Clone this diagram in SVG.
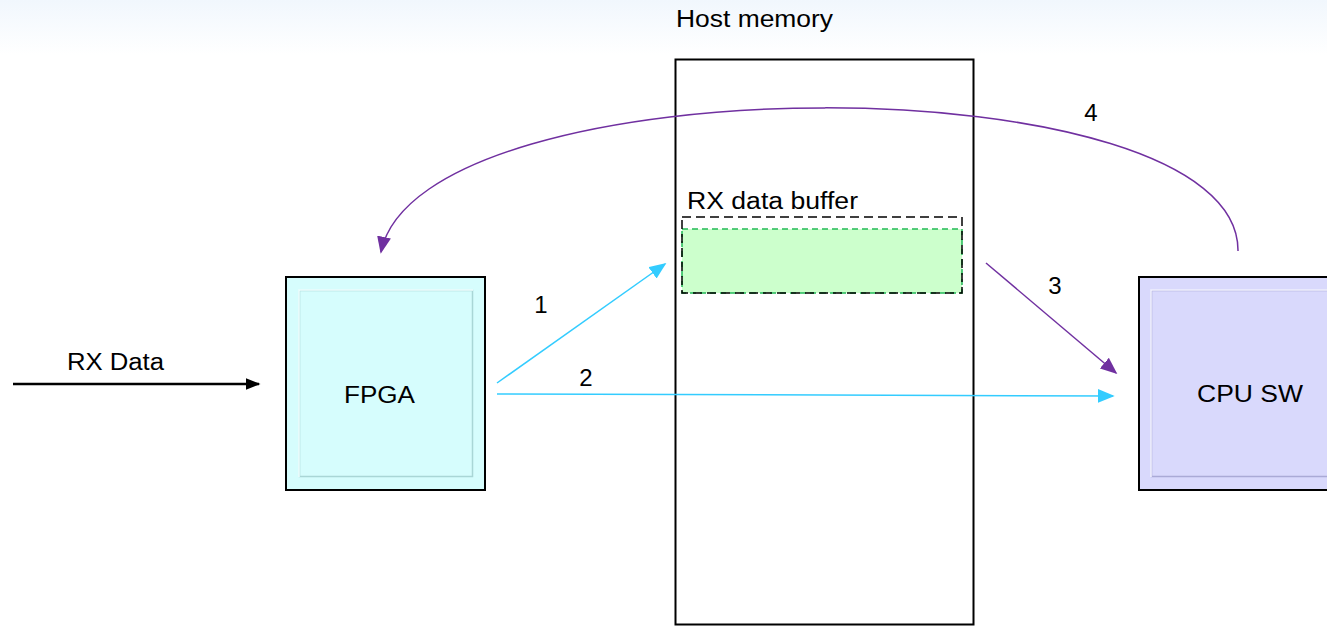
<svg xmlns="http://www.w3.org/2000/svg" width="1327" height="626" viewBox="0 0 1327 626">
<style>
.t{font-family:"Liberation Sans",Arial,sans-serif;font-size:23px;fill:#000}
.n{font-family:"Liberation Sans",Arial,sans-serif;font-size:24px;fill:#000}
.box{stroke:#000;stroke-width:2}
.cy{stroke:#33ccff;stroke-width:1.5;fill:none}
.pu{stroke:#7030a0;stroke-width:1.5;fill:none}
</style>
<defs>
<linearGradient id="bg" x1="0" y1="0" x2="0" y2="1">
<stop offset="0" stop-color="#f1f7fd"/>
<stop offset="1" stop-color="#ffffff"/>
</linearGradient>
<marker id="ac" viewBox="0 0 10 10" refX="9" refY="5" markerWidth="17" markerHeight="14" preserveAspectRatio="none" markerUnits="userSpaceOnUse" orient="auto"><path d="M0,0L10,5L0,10z" fill="#33ccff"/></marker>
<marker id="ap" viewBox="0 0 10 10" refX="9" refY="5" markerWidth="17" markerHeight="14" preserveAspectRatio="none" markerUnits="userSpaceOnUse" orient="auto"><path d="M0,0L10,5L0,10z" fill="#7030a0"/></marker>
<marker id="ak" viewBox="0 0 10 10" refX="9" refY="5" markerWidth="15" markerHeight="12" preserveAspectRatio="none" markerUnits="userSpaceOnUse" orient="auto"><path d="M0,0L10,5L0,10z" fill="#000"/></marker>
</defs>
<rect x="0" y="0" width="1327" height="626" fill="#fff"/>
<rect x="0" y="0" width="1327" height="55" fill="url(#bg)"/>

<g id="host-memory">
<rect x="675.5" y="59.5" width="298" height="565" fill="#fff" class="box"/>
<text class="t" x="676" y="27" textLength="157" lengthAdjust="spacingAndGlyphs">Host memory</text>
</g>

<g id="rx-buffer">
<rect x="682" y="229" width="280" height="64" fill="#ccffcc" stroke="#22bb55" stroke-width="1.5" stroke-dasharray="6,4"/>
<rect x="682" y="217" width="280" height="76" fill="none" stroke="#000" stroke-width="1.5" stroke-dasharray="9,5"/>
<text class="t" x="687" y="209" textLength="171" lengthAdjust="spacingAndGlyphs">RX data buffer</text>
</g>

<g id="fpga">
<rect x="286" y="277" width="199" height="213" fill="#d6fdfd" class="box"/>
<rect x="299.5" y="290.5" width="173" height="186" fill="none" stroke="#a9d6d6" stroke-width="1.5"/>
<path d="M299,477V290H473" fill="none" stroke="#f0ffff" stroke-width="1.5"/>
<text class="t" x="344" y="403" textLength="71" lengthAdjust="spacingAndGlyphs">FPGA</text>
</g>

<g id="cpu-sw">
<rect x="1139" y="277" width="200" height="213" fill="#d9d9fc" class="box"/>
<rect x="1151.5" y="290.5" width="180" height="186" fill="none" stroke="#aaaad6" stroke-width="1.5"/>
<path d="M1151,477V290H1331" fill="none" stroke="#f2f2ff" stroke-width="1.5"/>
<text class="t" x="1197" y="402" textLength="106" lengthAdjust="spacingAndGlyphs">CPU SW</text>
</g>

<g id="connectors">
<line x1="13" y1="384" x2="259" y2="384" stroke="#000" stroke-width="2.5" marker-end="url(#ak)"/>
<line class="cy" x1="497" y1="383" x2="665" y2="264" marker-end="url(#ac)"/>
<line class="cy" x1="497" y1="394" x2="1113" y2="396" marker-end="url(#ac)"/>
<line class="pu" x1="986" y1="263" x2="1116" y2="373" marker-end="url(#ap)"/>
<path class="pu" d="M1238,251C1240,60 420,60 381,252" marker-end="url(#ap)"/>
</g>

<g id="labels">
<text class="t" x="67" y="370" textLength="97" lengthAdjust="spacingAndGlyphs">RX Data</text>
<text class="n" x="541" y="313" text-anchor="middle">1</text>
<text class="n" x="586" y="386" text-anchor="middle">2</text>
<text class="n" x="1055" y="294" text-anchor="middle">3</text>
<text class="n" x="1091" y="121" text-anchor="middle">4</text>
</g>
</svg>
